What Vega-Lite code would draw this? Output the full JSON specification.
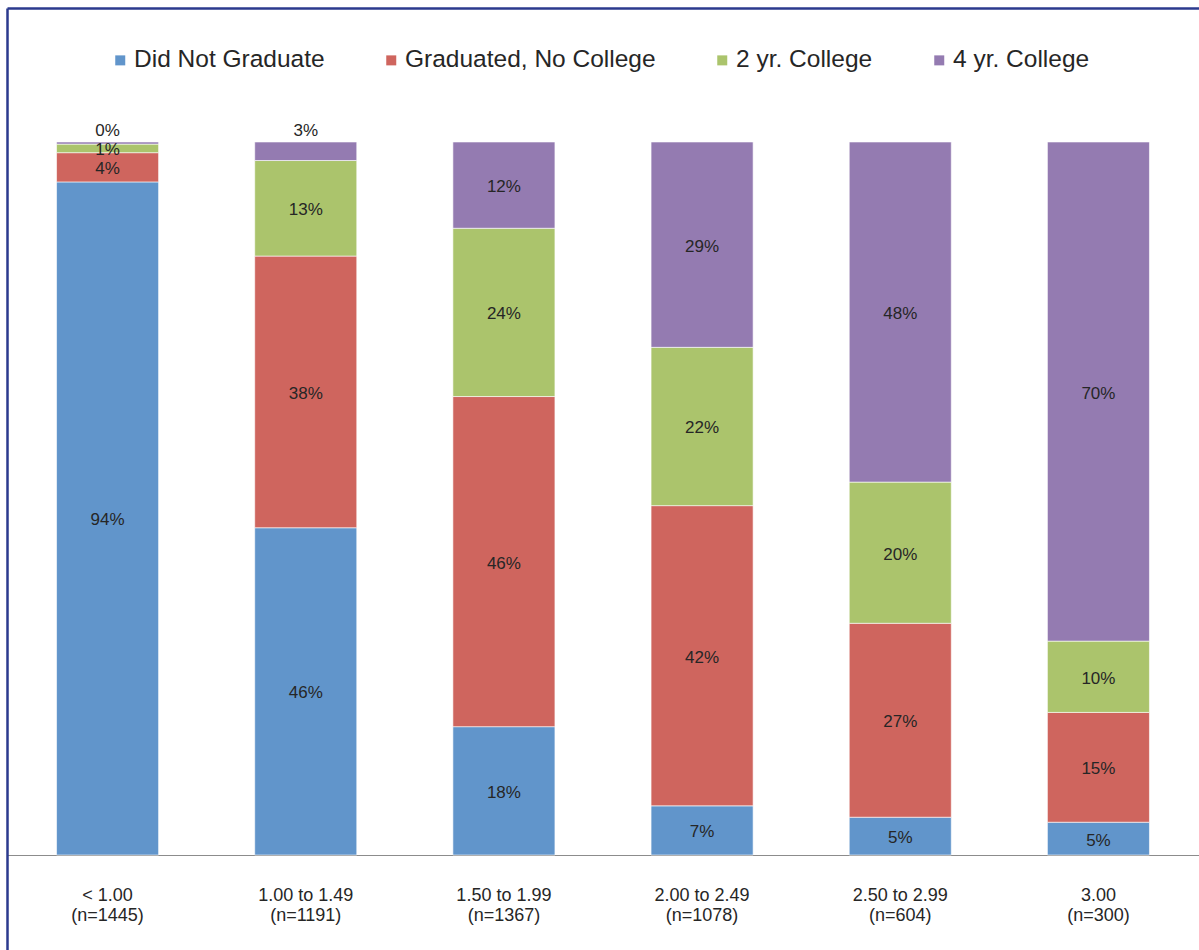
{
  "$schema": "https://vega.github.io/schema/vega-lite/v6.json",
  "width": 1192,
  "height": 942,
  "autosize": {"type": "none"},
  "padding": {"left": 7, "top": 8, "right": 0, "bottom": 0},
  "background": "white",
  "config": {
    "view": {"stroke": null},
    "font": "Liberation Sans",
    "text": {"font": "Liberation Sans"}
  },
  "data": {
    "values": [
      {"gpa": "< 1.00\n(n=1445)", "group": "Did Not Graduate", "rank": 1, "value": 0.944},
      {"gpa": "< 1.00\n(n=1445)", "group": "Graduated, No College", "rank": 2, "value": 0.041},
      {"gpa": "< 1.00\n(n=1445)", "group": "2 yr. College", "rank": 3, "value": 0.012},
      {"gpa": "< 1.00\n(n=1445)", "group": "4 yr. College", "rank": 4, "value": 0.003},
      {"gpa": "1.00 to 1.49\n(n=1191)", "group": "Did Not Graduate", "rank": 1, "value": 0.459},
      {"gpa": "1.00 to 1.49\n(n=1191)", "group": "Graduated, No College", "rank": 2, "value": 0.381},
      {"gpa": "1.00 to 1.49\n(n=1191)", "group": "2 yr. College", "rank": 3, "value": 0.134},
      {"gpa": "1.00 to 1.49\n(n=1191)", "group": "4 yr. College", "rank": 4, "value": 0.026},
      {"gpa": "1.50 to 1.99\n(n=1367)", "group": "Did Not Graduate", "rank": 1, "value": 0.180},
      {"gpa": "1.50 to 1.99\n(n=1367)", "group": "Graduated, No College", "rank": 2, "value": 0.463},
      {"gpa": "1.50 to 1.99\n(n=1367)", "group": "2 yr. College", "rank": 3, "value": 0.236},
      {"gpa": "1.50 to 1.99\n(n=1367)", "group": "4 yr. College", "rank": 4, "value": 0.121},
      {"gpa": "2.00 to 2.49\n(n=1078)", "group": "Did Not Graduate", "rank": 1, "value": 0.069},
      {"gpa": "2.00 to 2.49\n(n=1078)", "group": "Graduated, No College", "rank": 2, "value": 0.421},
      {"gpa": "2.00 to 2.49\n(n=1078)", "group": "2 yr. College", "rank": 3, "value": 0.222},
      {"gpa": "2.00 to 2.49\n(n=1078)", "group": "4 yr. College", "rank": 4, "value": 0.288},
      {"gpa": "2.50 to 2.99\n(n=604)", "group": "Did Not Graduate", "rank": 1, "value": 0.053},
      {"gpa": "2.50 to 2.99\n(n=604)", "group": "Graduated, No College", "rank": 2, "value": 0.272},
      {"gpa": "2.50 to 2.99\n(n=604)", "group": "2 yr. College", "rank": 3, "value": 0.198},
      {"gpa": "2.50 to 2.99\n(n=604)", "group": "4 yr. College", "rank": 4, "value": 0.477},
      {"gpa": "3.00\n(n=300)", "group": "Did Not Graduate", "rank": 1, "value": 0.046},
      {"gpa": "3.00\n(n=300)", "group": "Graduated, No College", "rank": 2, "value": 0.154},
      {"gpa": "3.00\n(n=300)", "group": "2 yr. College", "rank": 3, "value": 0.100},
      {"gpa": "3.00\n(n=300)", "group": "4 yr. College", "rank": 4, "value": 0.700}
    ]
  },
  "layer": [
    {
      "mark": {"type": "bar", "stroke": "white", "strokeWidth": 1, "strokeOpacity": 0.6},
      "encoding": {
        "x": {
          "field": "gpa", "type": "nominal", "sort": null,
          "scale": {"paddingInner": 0.485, "paddingOuter": 0.25},
          "axis": {
            "orient": "bottom", "offset": -95, "title": null,
            "ticks": false, "domainColor": "#8c8c8c", "domainWidth": 1.2,
            "labelAngle": 0, "labelFont": "Liberation Sans", "labelFontSize": 18,
            "labelColor": "#262626", "labelPadding": 31, "labelLineHeight": 20,
            "labelExpr": "split(datum.label, '\\n')"
          }
        },
        "y": {
          "field": "value", "type": "quantitative", "stack": "zero",
          "scale": {"domain": [-0.1332, 1.1879], "nice": false, "zero": false},
          "axis": {
            "orient": "left", "title": null, "labels": false, "ticks": false, "grid": false,
            "domainColor": "#2b3a8e", "domainWidth": 2.5
          }
        },
        "color": {
          "field": "group", "type": "nominal",
          "scale": {
            "domain": ["Did Not Graduate", "Graduated, No College", "2 yr. College", "4 yr. College"],
            "range": ["#6195cb", "#cf655e", "#abc46c", "#947bb1"]
          },
          "legend": {
            "title": null, "orient": "none", "direction": "horizontal", "columns": 4,
            "legendX": 101, "legendY": 40, "padding": 0,
            "symbolType": "square", "symbolSize": 100, "symbolStrokeWidth": 0,
            "labelFont": "Liberation Sans", "labelFontSize": 24.5, "labelColor": "#262626",
            "labelOffset": 1.5, "columnPadding": 54, "labelLimit": 400
          }
        },
        "order": {"field": "rank", "type": "quantitative"}
      }
    },
    {
      "transform": [{"filter": "!(datum.group == '4 yr. College' && datum.value < 0.03)"}],
      "mark": {"type": "text", "fontSize": 17, "color": "#262626", "baseline": "middle", "dy": 2, "font": "Liberation Sans"},
      "encoding": {
        "x": {"field": "gpa", "type": "nominal", "sort": null, "axis": null},
        "y": {
          "field": "value", "type": "quantitative", "stack": "zero", "bandPosition": 0.5,
          "axis": {
            "orient": "left", "title": null, "labels": false, "ticks": false, "grid": false,
            "domainColor": "#2b3a8e", "domainWidth": 2.5
          }
        },
        "text": {"field": "value", "type": "quantitative", "format": ".0%"},
        "order": {"field": "rank", "type": "quantitative"}
      }
    },
    {
      "transform": [{"filter": "datum.group == '4 yr. College' && datum.value < 0.03"}],
      "mark": {"type": "text", "fontSize": 17, "color": "#262626", "baseline": "middle", "dy": -11, "font": "Liberation Sans"},
      "encoding": {
        "x": {
          "field": "gpa", "type": "nominal", "sort": null,
          "axis": {
            "orient": "top", "title": null, "labels": false, "ticks": false,
            "domainColor": "#2b3a8e", "domainWidth": 2.5
          }
        },
        "y": {
          "datum": 1, "type": "quantitative",
          "axis": {
            "orient": "left", "title": null, "labels": false, "ticks": false, "grid": false,
            "domainColor": "#2b3a8e", "domainWidth": 2.5
          }
        },
        "text": {"field": "value", "type": "quantitative", "format": ".0%"}
      }
    }
  ],
  "resolve": {"axis": {"x": "independent"}}
}
